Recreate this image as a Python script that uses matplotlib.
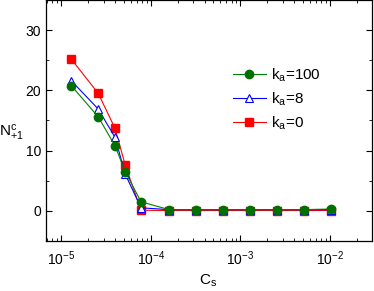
import matplotlib
matplotlib.use('Agg')
import matplotlib.pyplot as plt
from matplotlib.ticker import LogLocator, MultipleLocator, NullFormatter

plt.rcParams['font.family'] = ['Liberation Sans', 'DejaVu Sans']
plt.rcParams['mathtext.fontset'] = 'custom'
plt.rcParams['mathtext.rm'] = 'Liberation Sans'
plt.rcParams['mathtext.it'] = 'Liberation Sans'

# concentration values
cs = [1.3e-5, 2.6e-5, 4.0e-5, 5.2e-5, 7.8e-5, 1.6e-4, 3.2e-4,
      6.4e-4, 1.28e-3, 2.56e-3, 5.12e-3, 1.02e-2]

# N^c_{+1} for each k_a
n_ka100 = [20.8, 15.6, 10.8, 6.5, 1.5, 0.2, 0.2, 0.2, 0.2, 0.2, 0.2, 0.3]
n_ka8 = [21.6, 16.9, 12.2, 6.1, 0.5, 0.2, 0.2, 0.2, 0.2, 0.2, 0.2, 0.2]
n_ka0 = [25.2, 19.5, 13.7, 7.6, 0.1, 0.05, 0.05, 0.05, 0.05, 0.05, 0.05, 0.05]

labels = ['k$_a$=100', 'k$_a$=8', 'k$_a$=0']

fig = plt.figure(figsize=(3.74, 2.91), dpi=100)
ax = fig.add_axes([0.123, 0.172, 0.872, 0.828])

l0, = ax.plot(cs, n_ka0, '-s', color='red', mfc='red', mec='red',
              ms=5.5, lw=0.8)
l8, = ax.plot(cs, n_ka8, '-^', color='blue', mfc='white', mec='blue',
              ms=6, lw=0.8, mew=0.8)
l100, = ax.plot(cs, n_ka100, '-o', color='green', mfc='#007000', mec='#007000',
                ms=6, lw=0.8)

ax.set_xscale('log')
ax.set_xlim(6.8e-6, 2.95e-2)
ax.set_ylim(-5, 35)
ax.yaxis.set_major_locator(MultipleLocator(10))
ax.yaxis.set_minor_locator(MultipleLocator(5))
ax.xaxis.set_major_locator(LogLocator(base=10, numticks=10))
ax.xaxis.set_minor_locator(LogLocator(base=10, subs=range(2, 10), numticks=10))
ax.xaxis.set_minor_formatter(NullFormatter())

ax.tick_params(which='both', direction='in', top=True, right=True, labelsize=10)
ax.tick_params(which='major', length=4, width=0.8)
ax.tick_params(which='minor', length=2, width=0.6)
ax.tick_params(axis='x', which='major', pad=6)
for s in ax.spines.values():
    s.set_linewidth(0.9)

ax.set_xlabel('C$_s$', fontsize=11, va='center')
ax.xaxis.set_label_coords(0.497, -0.165)
ax.set_ylabel('N$^c_{+1}$', fontsize=11, rotation=0, va='center', ha='center')
ax.yaxis.set_label_coords(-0.105, 0.45)

ax.legend([l100, l8, l0], labels, loc='upper left', bbox_to_anchor=(0.53, 0.78),
          frameon=False, fontsize=11, handlelength=2.2, handletextpad=0.3,
          labelspacing=0.42)

fig.savefig('out.png', dpi=100)
